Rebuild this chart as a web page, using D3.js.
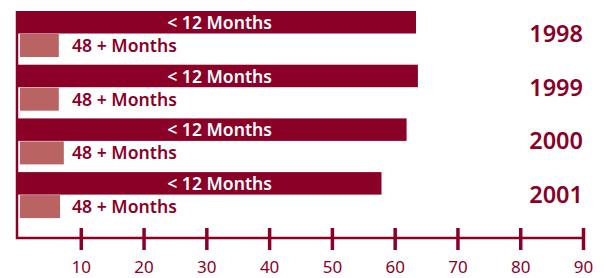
<!DOCTYPE html>
<html><head><meta charset="utf-8">
<script src="https://cdn.jsdelivr.net/npm/d3@7/dist/d3.min.js"></script>
<style>html,body{margin:0;padding:0;background:#fff;}svg{display:block;}</style>
</head><body>
<svg id="c" width="605" height="278"></svg>
<script>
const years = ["1998", "1999", "2000", "2001"];
const under12 = [63.4, 63.7, 61.9, 57.9];
const over48 = [6.5, 6.5, 7.3, 6.7];
const seriesLabels = ["< 12 Months", "48 + Months"];
const tickValues = [10, 20, 30, 40, 50, 60, 70, 80, 90];

const dark = "#8B0027", light = "#B96462";
const font = "'Noto Sans', 'Open Sans', sans-serif";
const svg = d3.select("#c");

const x = d3.scaleLinear().domain([0, 90]).range([18, 583]);
const y = d3.scaleBand().domain(years).range([11, 11 + 4 * 53.7]).paddingInner(0).paddingOuter(0);
const darkH = 22.5, lightOff = 23, lightH = 23;

const g = svg.append("g");
years.forEach((yr, i) => {
  const top = y(yr);
  g.append("rect").attr("x", x(0) - 2).attr("y", top)
    .attr("width", x(under12[i]) - x(0) + 2).attr("height", darkH).attr("fill", dark);
  g.append("rect").attr("x", x(0) + 2).attr("y", top + lightOff)
    .attr("width", x(over48[i]) - x(0) - 2).attr("height", lightH).attr("fill", light);
  g.append("text").attr("x", 272).attr("y", top + darkH - 4.5)
    .attr("text-anchor", "end").attr("fill", "#fff")
    .style("font-family", font).style("font-weight", 600).style("font-size", "17.6px")
    .text(seriesLabels[0]);
  g.append("text").attr("x", 72).attr("y", top + lightOff + lightH - 5)
    .attr("text-anchor", "start").attr("fill", dark)
    .style("font-family", font).style("font-weight", 600).style("font-size", "17.6px")
    .text(seriesLabels[1]);
  g.append("text").attr("x", 583).attr("y", top + darkH + 8.5)
    .attr("text-anchor", "end").attr("fill", dark)
    .style("font-family", font).style("font-weight", 600).style("font-size", "23.5px")
    .text(yr);
});

// vertical axis line
svg.append("line").attr("x1", 17).attr("x2", 17).attr("y1", 11).attr("y2", 239)
  .attr("stroke", dark).attr("stroke-width", 2.5);

// horizontal axis
const axisY = 238;
const ax = svg.append("g").attr("transform", `translate(0,${axisY})`)
  .call(d3.axisBottom(x).tickValues(tickValues).tickSize(12).tickPadding(11).tickFormat(d3.format("d")));
ax.select(".domain").remove();
ax.append("line").attr("x1", 16).attr("x2", x(90) + 1.5).attr("y1", 0).attr("y2", 0)
  .attr("stroke", dark).attr("stroke-width", 2.5);
ax.selectAll(".tick line").attr("y1", -10).attr("y2", 12).attr("stroke", dark).attr("stroke-width", 3.5);
ax.selectAll(".tick text").attr("fill", dark)
  .style("font-family", font).style("font-size", "17px").style("font-weight", 400);
</script>
</body></html>
